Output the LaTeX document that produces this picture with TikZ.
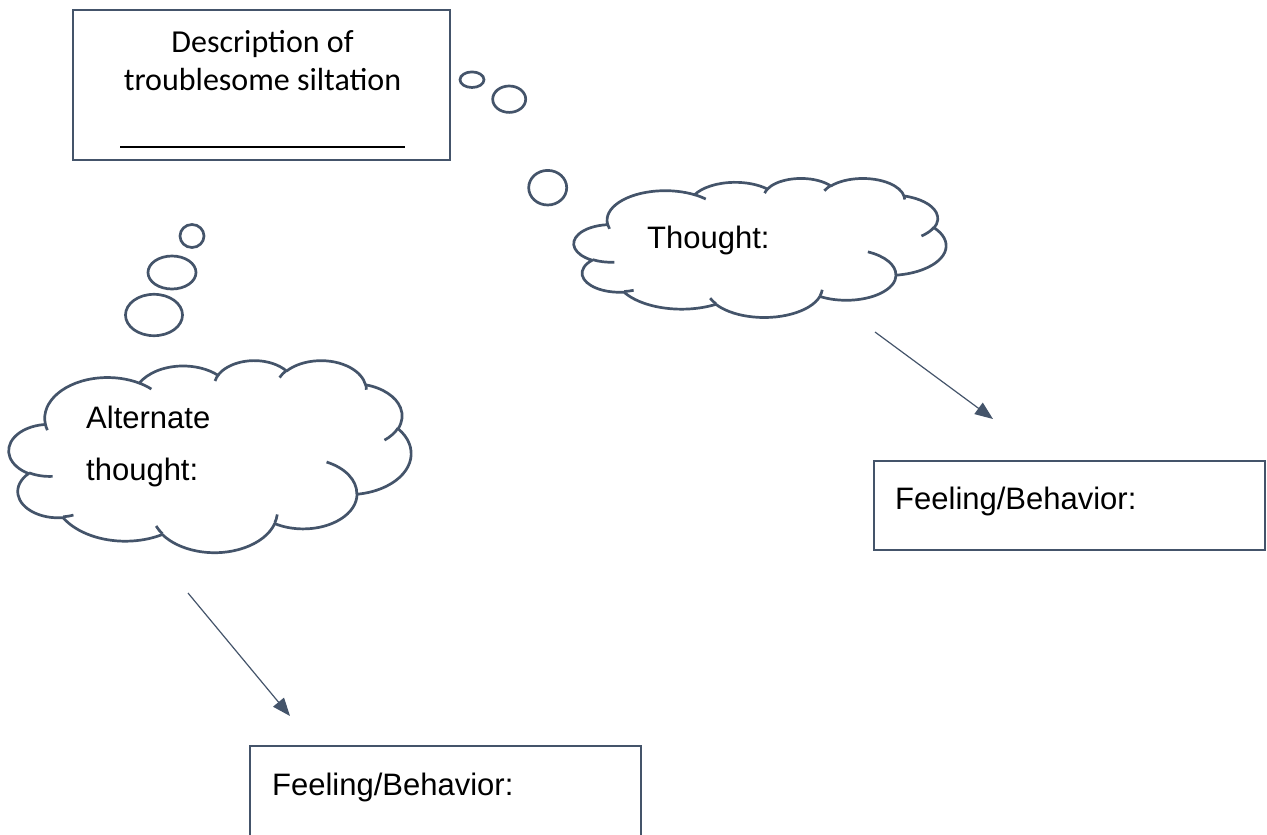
\documentclass[tikz,border=0pt]{standalone}
\usepackage{fontspec}
\setmainfont{Liberation Sans}
\newfontfamily\carl{Carlito}
\usetikzlibrary{arrows.meta}
\definecolor{slate}{HTML}{44546A}
% OOXML-style arc: wR, hR, start angle (ray angle), sweep
\newcommand\ooarc[4]{\pgfextra{%
 \pgfmathparse{atan2((#1)*sin(#3),(#2)*cos(#3))}\xdef\ooa{\pgfmathresult}%
 \pgfmathparse{atan2((#1)*sin((#3)+(#4)),(#2)*cos((#3)+(#4)))}\xdef\oob{\pgfmathresult}%
 \pgfmathparse{mod((\oob)-(\ooa)+720,360)}\xdef\ood{\pgfmathresult}}%
 arc[start angle=\ooa, delta angle=\ood, x radius=#1pt, y radius=#2pt]}
\newcommand\oocloud{%
 \draw[cloudline] (39.00,143.70)
  \ooarc{67.53}{91.90}{-190.4875}{123.7805}
  \ooarc{53.33}{72.67}{-144.1024}{89.9452}
  \ooarc{43.65}{59.45}{-145.8079}{99.7230}
  \ooarc{48.57}{65.95}{-130.9861}{117.2417}
  \ooarc{53.33}{72.73}{-78.7089}{109.0269}
  \ooarc{67.75}{92.20}{-46.2673}{130.2690}
  \ooarc{57.85}{78.67}{0.6250}{114.0333}
  \ooarc{67.52}{92.15}{22.4516}{115.1726}
  \ooarc{77.20}{105.43}{66.2426}{75.7110}
  \ooarc{43.60}{59.18}{-274.9421}{146.7356}
  \ooarc{43.45}{59.45}{-246.8285}{152.5189} -- cycle;
 \draw[cloudline]
  (46.93,261.77) \ooarc{43.45}{59.45}{86.742}{26.4295}
  (69.28,348.99) \ooarc{43.60}{59.18}{73.6105}{11.4475}
  (164.78,390.90) \ooarc{67.52}{92.15}{137.6242}{14.0811}
  (288.27,347.51) \ooarc{67.52}{92.15}{6.4533}{15.9984}
  (341.29,229.54) \ooarc{57.85}{78.67}{-70.2924}{70.9174}
  (417.98,153.54) \ooarc{53.33}{72.73}{30.3180}{27.7515}
  (383.24,54.26) \ooarc{48.57}{65.95}{-13.7443}{14.8589}
  (290.78,39.52) \ooarc{48.57}{65.95}{-149.1815}{18.1954}
  (221.41,47.20) \ooarc{43.65}{59.45}{-163.4943}{17.6864}
  (140.00,51.92) \ooarc{67.53}{91.90}{-66.7070}{12.3194}
  (41.27,157.89) \ooarc{67.53}{91.90}{157.6544}{11.8582};
}
\begin{document}
\begin{tikzpicture}[x=1pt,y=1pt,yscale=-1,
  cloudline/.style={draw=slate, line width=2.7pt, line join=round},
  boxstyle/.style={draw=slate, line width=2.8pt, rectangle, inner sep=0pt},
  bubble/.style={draw=slate, line width=2.7pt},
  arr/.style={draw=slate, line width=1.2pt, -{Triangle[length=18pt,width=14pt]}},
  armtext/.style={font=\fontsize{31}{37}\selectfont, inner sep=0pt, anchor=base west},
  caltext/.style={font=\carl\fontsize{32}{38}\selectfont, inner sep=0pt, anchor=base}]
\clip (0,0) rectangle (1267,835);
\useasboundingbox (0,0) rectangle (1267,835);
% top description box
\node[boxstyle, minimum width=377pt, minimum height=150pt] (desc) at (261.5,85) {};
\node[caltext] (desc1) at (262.5,52) {Description of};
\node[caltext] (desc2) at (262.5,90) {troublesome siltation};
\coordinate (lineL) at (120,147);
\coordinate (lineR) at (405,147);
\draw[line width=1.8pt, black] (lineL) -- (lineR);
% thought bubbles (top)
\draw[bubble] (472,79.7) ellipse[x radius=12, y radius=7.8];
\draw[bubble] (509.2,99.2) ellipse[x radius=16.5, y radius=13.2];
\draw[bubble] (547.7,187.7) ellipse[x radius=19, y radius=17.3];
% thought cloud
\begin{scope}[shift={(574,178)}, xscale=372/432, yscale=139/432]
 \oocloud
\end{scope}
\node[armtext] (thought) at (647,248) {Thought:};
% thought bubbles (left)
\draw[bubble] (192,236) ellipse[x radius=12, y radius=11.5];
\draw[bubble] (172,272.5) ellipse[x radius=24, y radius=16.5];
\draw[bubble] (154,315) ellipse[x radius=28.5, y radius=20.7];
% alternate cloud
\begin{scope}[shift={(9,360)}, xscale=402/432, yscale=192/432]
 \oocloud
\end{scope}
\node[armtext] (alt1) at (86,428) {Alternate};
\node[armtext] (alt2) at (86,480) {thought:};
% feeling boxes
\node[boxstyle, minimum width=391pt, minimum height=89pt] (fb1) at (1069.5,505.5) {};
\node[armtext] (fb1t) at (895,509) {Feeling/Behavior:};
\node[boxstyle, minimum width=391pt, minimum height=160pt] (fb2) at (445.5,826) {};
\node[armtext] (fb2t) at (272,795) {Feeling/Behavior:};
% arrows
\coordinate (a1s) at (875,332);
\coordinate (a1e) at (993,419);
\draw[arr] (a1s) -- (a1e);
\coordinate (a2s) at (188,593);
\coordinate (a2e) at (290,716);
\draw[arr] (a2s) -- (a2e);
\end{tikzpicture}
\end{document}
